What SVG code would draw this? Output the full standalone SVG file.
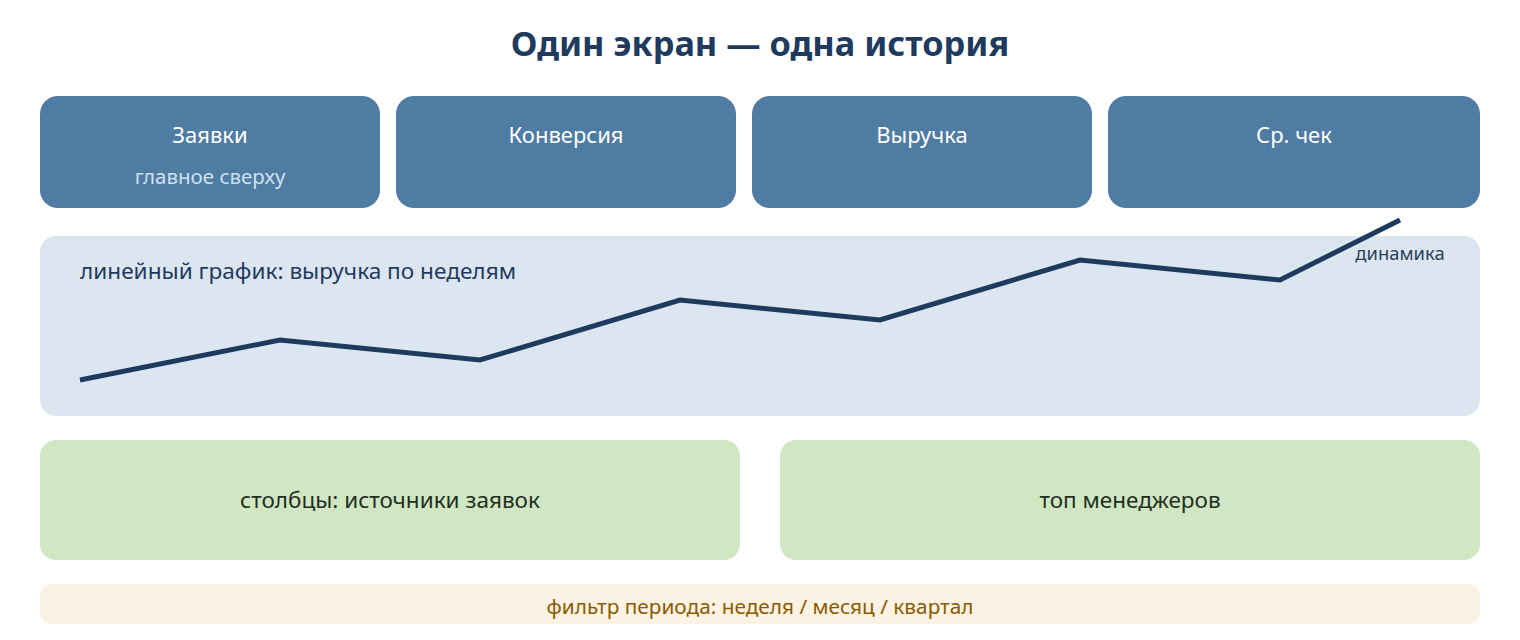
<svg xmlns="http://www.w3.org/2000/svg" width="1520" height="640" viewBox="0 0 1520 640">
<style>
text{font-family:"Noto Sans","Open Sans","DejaVu Sans",sans-serif}
.kpi{fill:#4f7ca3}
.kt{fill:#ffffff;font-size:22px;text-anchor:middle}
.ks{fill:#cfe0ee;font-size:20.5px;text-anchor:middle}
.green{fill:#d1e6c2}
.gt{fill:#1f2f22;font-size:22.5px;text-anchor:middle}
</style>
<rect width="1520" height="640" fill="#ffffff"/>
<text x="760" y="56" text-anchor="middle" font-size="34.3" font-weight="bold" fill="#1f3a5f">Один экран — одна история</text>
<g id="kpi1"><rect class="kpi" x="40" y="96" width="340" height="112" rx="18"/><text class="kt" x="210" y="143">Заявки</text><text class="ks" x="210" y="184">главное сверху</text></g>
<g id="kpi2"><rect class="kpi" x="396" y="96" width="340" height="112" rx="18"/><text class="kt" x="566" y="143">Конверсия</text></g>
<g id="kpi3"><rect class="kpi" x="752" y="96" width="340" height="112" rx="18"/><text class="kt" x="922" y="143">Выручка</text></g>
<g id="kpi4"><rect class="kpi" x="1108" y="96" width="372" height="112" rx="18"/><text class="kt" x="1294" y="143">Ср. чек</text></g>
<g id="chart">
<rect x="40" y="236" width="1440" height="180" rx="16" fill="#dce6f0"/>
<text x="80" y="279" font-size="22.6" fill="#1f3a5f">линейный график: выручка по неделям</text>
<text x="1400" y="260" font-size="18.4" text-anchor="middle" fill="#2b3f5c">динамика</text>
</g>
<g id="connectors">
<polyline points="80,380 280,340 480,360 680,300 880,320 1080,260 1280,280 1400,220" fill="none" stroke="#1f3a5f" stroke-width="5"/>
</g>
<g id="bars"><rect class="green" x="40" y="440" width="700" height="120" rx="16"/><text class="gt" x="390" y="508">столбцы: источники заявок</text></g>
<g id="top"><rect class="green" x="780" y="440" width="700" height="120" rx="16"/><text class="gt" x="1130" y="508">топ менеджеров</text></g>
<g id="filter"><rect x="40" y="584" width="1440" height="40" rx="10" fill="#fdf3e4"/><text x="760" y="614" font-size="20.8" text-anchor="middle" fill="#8a5a00">фильтр периода: неделя / месяц / квартал</text></g>
</svg>
